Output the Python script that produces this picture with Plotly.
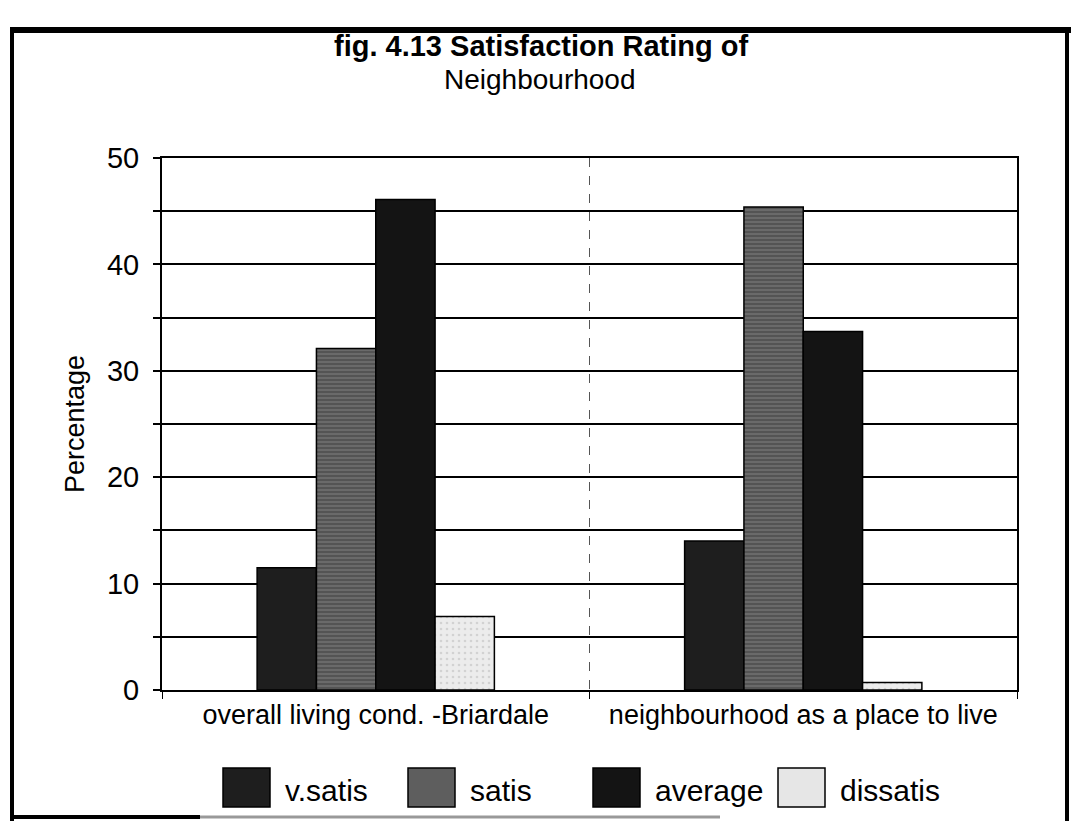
import plotly.graph_objects as go

categories = ["overall living cond. -Briardale", "neighbourhood as a place to live"]
series_names = ["v.satis", "satis", "average", "dissatis"]
v_satis = [11.5, 14.0]
satis = [32.1, 45.4]
average = [46.1, 33.7]
dissatis = [6.9, 0.7]
y_ticks = [0, 10, 20, 30, 40, 50]
title_line1 = "fig. 4.13 Satisfaction Rating of"
title_line2 = "Neighbourhood"
y_title = "Percentage"

series_values = [v_satis, satis, average, dissatis]
fills = ["#1e1e1e", "#555555", "#141414", "#e2e2e2"]
legend_fills = ["#1e1e1e", "#5e5e5e", "#141414", "#e6e6e6"]
patterns = [None, dict(shape="-", fgcolor="#3a3a3a", bgcolor="#6a6a6a", size=4, solidity=0.45), None,
            dict(shape=".", fgcolor="#b8b8b8", bgcolor="#ececec", size=6, solidity=0.15)]

W, H = 1071, 821
L, R, T, B = 162, 1017, 158, 690  # plot area pixel box

FONT = "Liberation Sans, Arial, sans-serif"

fig = go.Figure()
for name, vals, col, pat in zip(series_names, series_values, fills, patterns):
    marker = dict(color=col, line=dict(color="#000000", width=1.5))
    if pat:
        marker["pattern"] = pat
    fig.add_trace(go.Bar(x=categories, y=vals, name=name, marker=marker, showlegend=False))

def px_x(p):
    return (p - L) / (R - L)

def px_y(p):
    return (B - p) / (B - T)

shapes = []
annotations = []

# custom legend with large swatches (equal-width items, as in the original)
leg_x0, leg_step, sw_w, txt_off = 223, 185, 47, 60
for i, name in enumerate(series_names):
    x0 = leg_x0 + i * leg_step
    shapes.append(dict(type="rect", xref="paper", yref="paper",
                       x0=px_x(x0), x1=px_x(x0 + sw_w),
                       y0=px_y(807), y1=px_y(768),
                       fillcolor=legend_fills[i],
                       line=dict(color="#000000", width=1.5)))
    annotations.append(dict(xref="paper", yref="paper", x=px_x(x0 + txt_off), y=px_y(790),
                            xanchor="left", yanchor="middle", text=name, showarrow=False,
                            font=dict(family=FONT, size=30, color="#000000")))

# title as two lines
annotations.append(dict(xref="paper", yref="paper", x=px_x(541), y=px_y(46),
                        xanchor="center", yanchor="middle", text="<b>" + title_line1 + "</b>",
                        showarrow=False, font=dict(family=FONT, size=29, color="#000000")))
annotations.append(dict(xref="paper", yref="paper", x=px_x(540), y=px_y(80),
                        xanchor="center", yanchor="middle", text=title_line2,
                        showarrow=False, font=dict(family=FONT, size=28, color="#000000")))

# outer frame of the scanned figure
shapes.append(dict(type="line", xref="paper", yref="paper",
                   x0=px_x(10), x1=px_x(1071), y0=px_y(30), y1=px_y(30),
                   line=dict(color="#000000", width=6)))
shapes.append(dict(type="line", xref="paper", yref="paper",
                   x0=px_x(12), x1=px_x(12), y0=px_y(28), y1=px_y(821),
                   line=dict(color="#000000", width=4)))
shapes.append(dict(type="line", xref="paper", yref="paper",
                   x0=px_x(1067), x1=px_x(1067), y0=px_y(28), y1=px_y(821),
                   line=dict(color="#000000", width=4)))
shapes.append(dict(type="line", xref="paper", yref="paper",
                   x0=px_x(10), x1=px_x(200), y0=px_y(817), y1=px_y(817),
                   line=dict(color="#000000", width=4)))
shapes.append(dict(type="line", xref="paper", yref="paper",
                   x0=px_x(200), x1=px_x(720), y0=px_y(817), y1=px_y(817),
                   line=dict(color="#999999", width=3)))

fig.update_layout(
    width=W, height=H,
    margin=dict(l=L, r=W - R, t=T, b=H - B),
    paper_bgcolor="#ffffff", plot_bgcolor="#ffffff",
    barmode="group", bargap=0.445, bargroupgap=0,
    font=dict(family=FONT, color="#000000"),
    xaxis=dict(
        type="category",
        showline=True, linecolor="#000000", linewidth=2, mirror=True,
        tickson="boundaries", ticks="outside", ticklen=7, tickcolor="#000000",
        showgrid=True, gridcolor="#555555", gridwidth=1, griddash="dash",
        tickfont=dict(family=FONT, size=27, color="#000000"),
    ),
    yaxis=dict(
        range=[0, 50], tickvals=y_ticks,
        showline=True, linecolor="#000000", linewidth=2, mirror=True,
        ticks="outside", ticklen=7, tickcolor="#000000", tickwidth=2,
        showgrid=True, gridcolor="#000000", gridwidth=2,
        minor=dict(dtick=5, showgrid=True, gridcolor="#000000", gridwidth=2,
                   ticks="outside", ticklen=7, tickcolor="#000000"),
        zeroline=False,
        ticklabelstandoff=8,
        tickfont=dict(family=FONT, size=29, color="#000000"),
        title=dict(text=y_title, standoff=14,
                   font=dict(family=FONT, size=27, color="#000000")),
    ),
    shapes=shapes,
    annotations=annotations,
)

fig.write_html("out.html")
